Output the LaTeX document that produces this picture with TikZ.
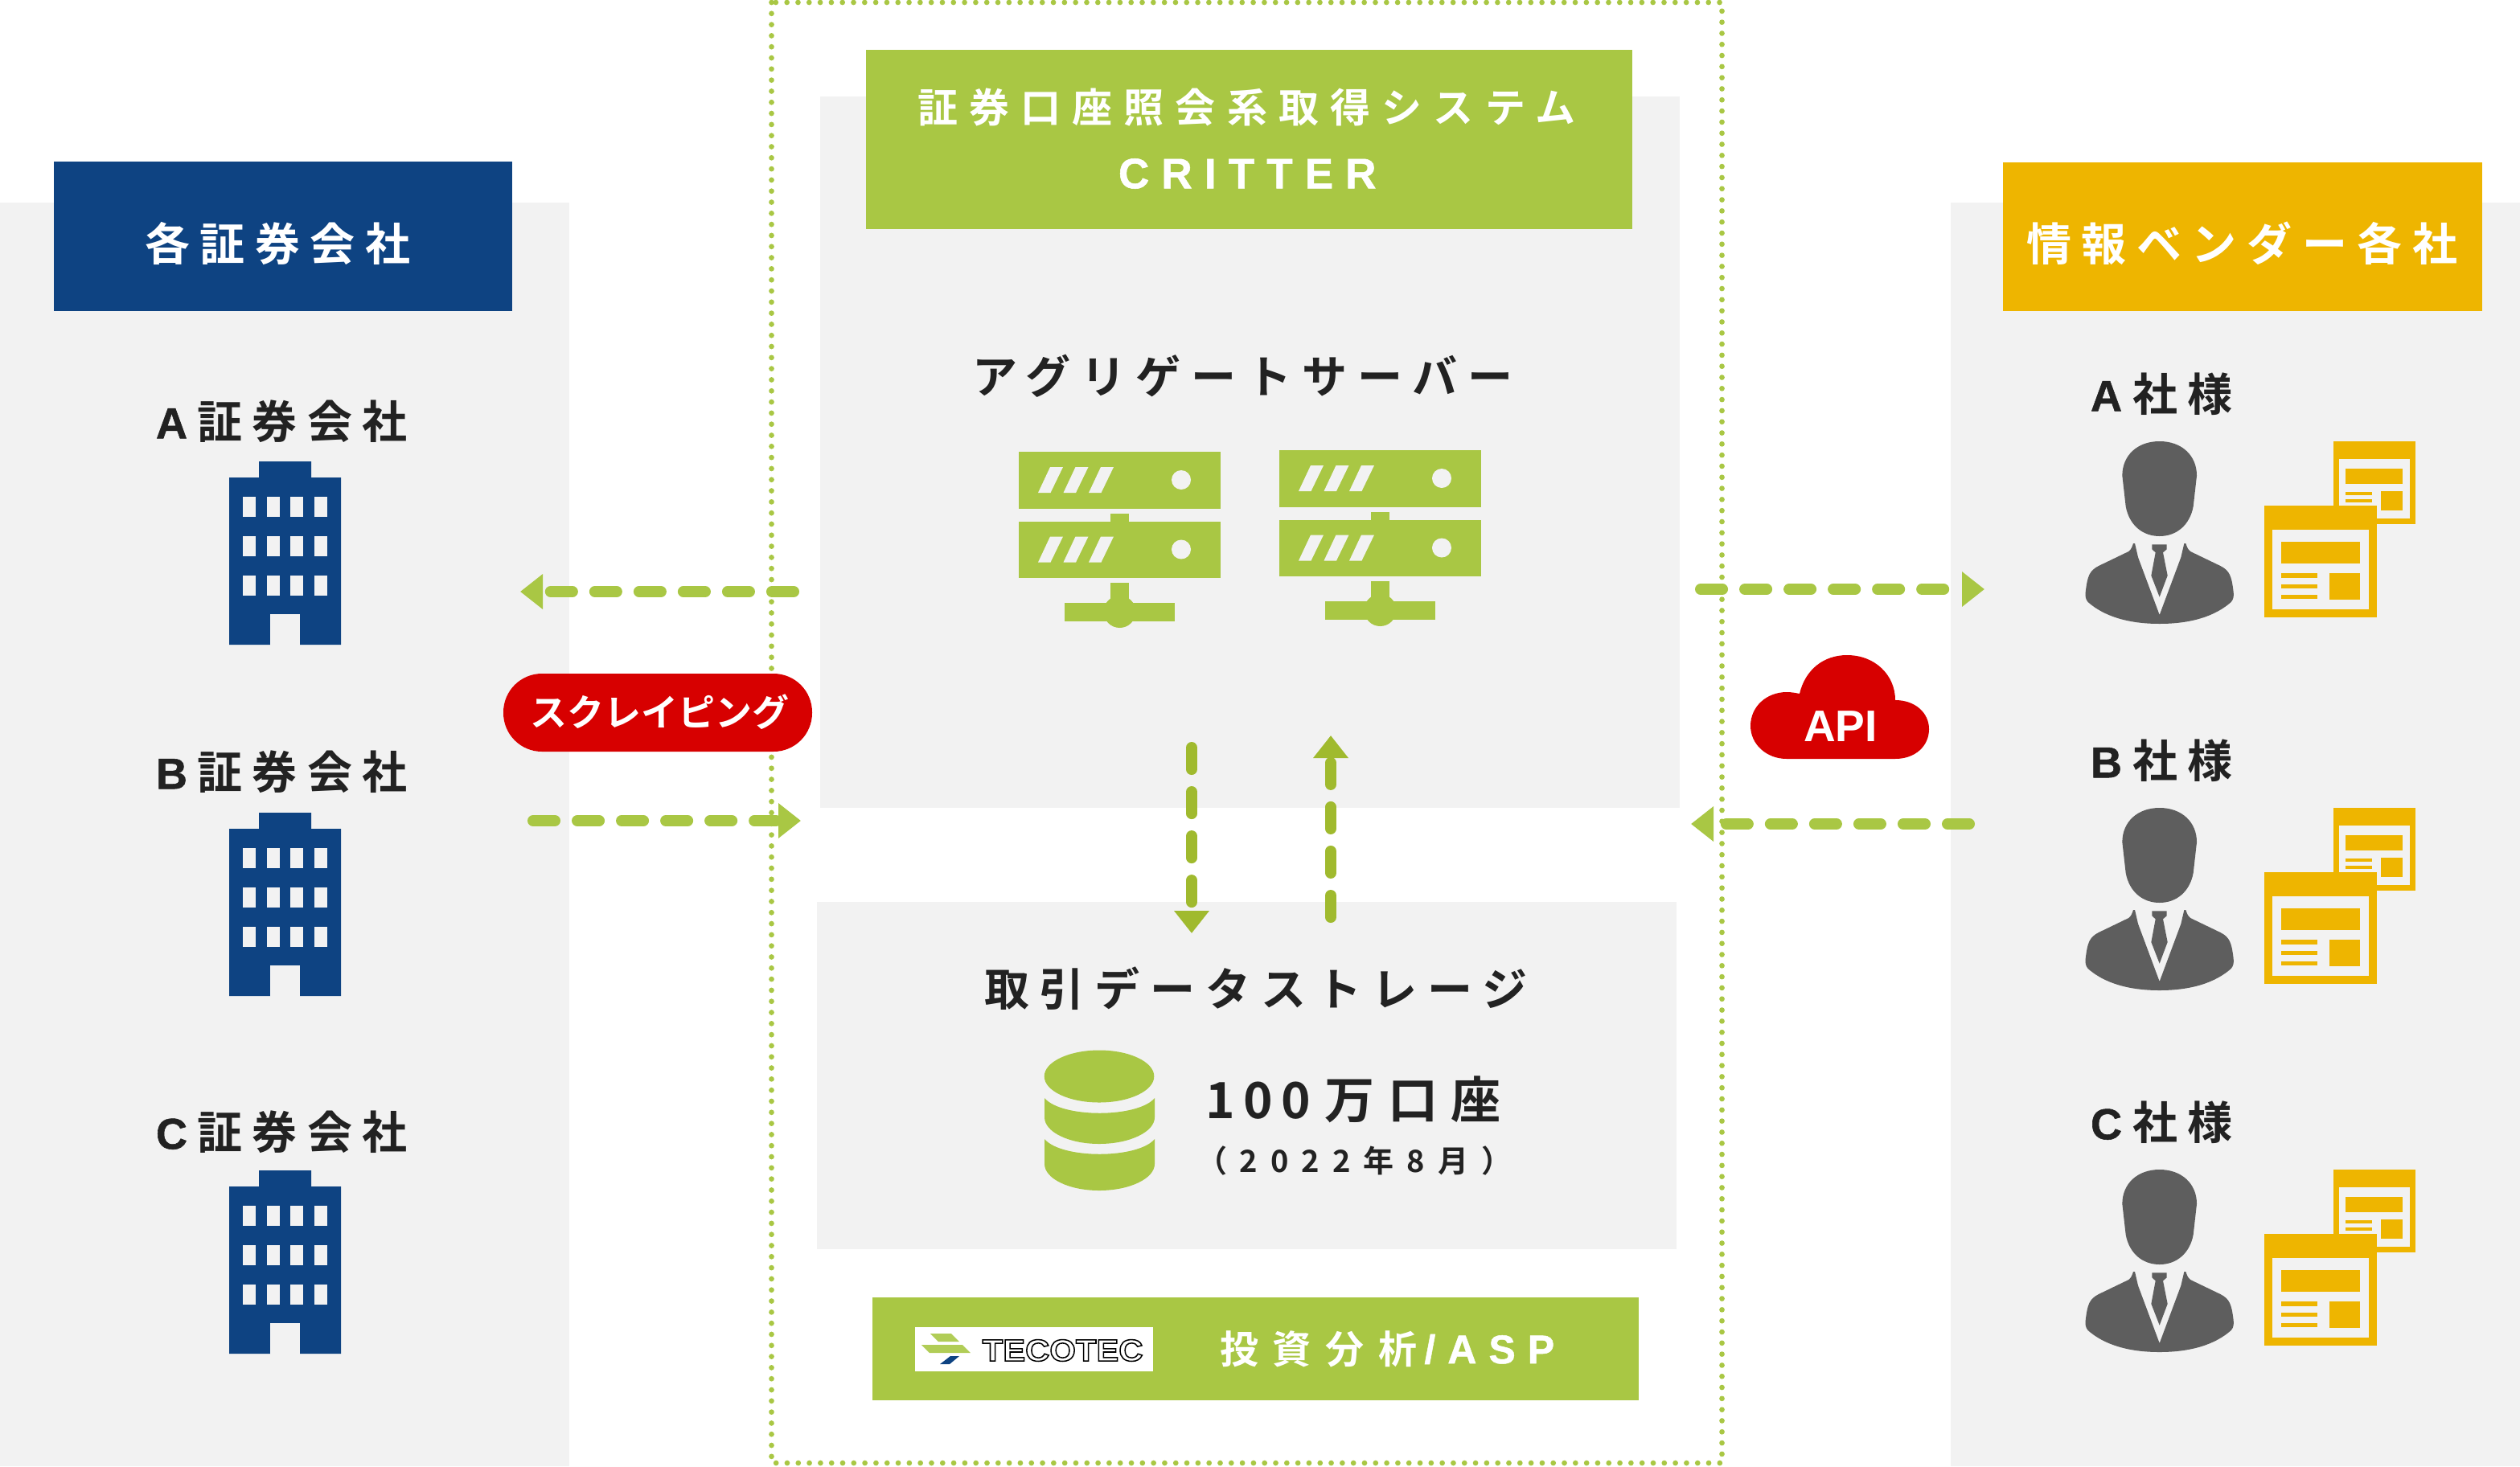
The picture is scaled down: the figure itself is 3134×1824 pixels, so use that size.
\documentclass[tikz,border=0pt]{standalone}
\usepackage{fontspec}
\usetikzlibrary{arrows.meta}
\setmainfont{Noto Sans CJK JP}
\newfontfamily\jpb{Noto Sans CJK JP Bold}
\newfontfamily\latb[FakeBold=1]{Liberation Sans Bold}
\newfontfamily\latp{Liberation Sans Bold}
\newcommand{\tsz}[2]{\fontsize{\fpeval{#1*0.28453}pt}{\fpeval{#1*0.3}pt}\selectfont\addfontfeature{LetterSpace=#2}}
\definecolor{gpanel}{HTML}{F2F2F2}
\definecolor{gbar}{HTML}{A9C744}
\definecolor{gdark}{HTML}{A0BA2E}
\definecolor{nblue}{HTML}{0E4382}
\definecolor{amber}{HTML}{EEB500}
\definecolor{cred}{HTML}{D70000}
\definecolor{ink}{HTML}{222222}
\definecolor{pgray}{HTML}{5E5E5E}
\tikzset{
  lbl/.style={inner sep=0pt,outer sep=0pt,anchor=west,text=ink},
  wlbl/.style={lbl,text=white},
  flow/.style={gbar,line width=0.14cm,line cap=round,dash pattern=on 0.27cm off 0.28cm,
     -{Triangle[length=0.28cm,width=0.42cm]}},
  flowd/.style={flow,gdark},
}
% building: dy is vertical offset
\newcommand{\building}[1]{%
 \begin{scope}[yshift=-#1*0.01cm]
  \fill[nblue] (285,802) -- (285,594) -- (322,594) -- (322,574) -- (387,574) -- (387,594) -- (424,594) -- (424,802) -- (373,802) -- (373,764) -- (336,764) -- (336,802) -- cycle;
  \foreach \wy in {618,667,716}{
   \foreach \wx in {302,332,361,391}{
    \fill[gpanel] (\wx,\wy) rectangle ++(16,25);
   }}
  \fill[gpanel] (336,764) rectangle (373,802);
 \end{scope}}
% server icon
\newcommand{\serverrow}[1]{%
  \fill[gbar] (1267,#1) rectangle ++(251,70.5);
  \foreach \sx in {0,31.5,63}{
    \fill[gpanel] ({1291+\sx},{#1+51}) -- ({1306+\sx},{#1+19}) -- ({1322+\sx},{#1+19}) -- ({1306.5+\sx},{#1+51}) -- cycle;
  }
  \fill[gpanel] (1469,{#1+35}) circle (12);
}
\newcommand{\server}[2]{%
 \begin{scope}[shift={(#1,#2)}]
  \serverrow{562}
  \serverrow{648.5}
  \fill[gbar] (1381,639) rectangle (1404,649);
  \fill[gbar] (1381,725) rectangle (1404,752);
  \fill[gbar] (1324,750) rectangle (1461,773);
  \fill[gbar] (1392.5,761) circle (20);
 \end{scope}}
% person + windows
\newcommand{\vendor}[1]{%
 \begin{scope}[shift={(2560,520+#1)},scale=0.33333]
  \fill[pgray] (377,87) .. controls (460,87) and (516,140) .. (516,215) -- (503,330) .. controls (490,400) and (440,441) .. (377,441) .. controls (314,441) and (264,400) .. (251,330) -- (238,215) .. controls (238,140) and (294,87) .. (377,87) -- cycle;
  \fill[pgray] (377,768) .. controls (260,768) and (170,740) .. (110,687) .. controls (100,675) and (100,665) .. (101,650) .. controls (108,590) and (115,570) .. (150,552) -- (262,498) .. controls (272,490) and (275,480) .. (279,468) -- (285,468) -- (297,520) -- (377,735) -- (457,520) -- (469,468) -- (475,468) .. controls (479,480) and (482,490) .. (492,498) -- (604,552) .. controls (639,570) and (646,590) .. (653,650) .. controls (654,665) and (654,675) .. (644,687) .. controls (584,740) and (494,768) .. (377,768) -- cycle;
  \fill[pgray] (349,472) -- (404,472) -- (404,490) -- (390,502) -- (407,588) -- (377,668) -- (346,588) -- (362,502) -- (349,490) -- cycle;
  \fill[amber] (1026,87) rectangle (1332,396);
  \fill[gpanel] (1047,153) rectangle (1311,375);
  \fill[amber] (1072,188) rectangle (1285,247);
  \fill[amber] (1072,275) rectangle (1170,287);
  \fill[amber] (1072,304) rectangle (1170,316);
  \fill[amber] (1202,273) rectangle (1285,345);
  \fill[amber] (768,327) rectangle (1188,744);
  \fill[gpanel] (797,417) rectangle (1158,714);
  \fill[amber] (831,463) rectangle (1124,543);
  \fill[amber] (831,580) rectangle (966,596);
  \fill[amber] (831,620) rectangle (966,636);
  \fill[amber] (831,659) rectangle (966,675);
  \fill[amber] (1010,579) rectangle (1124,677);
 \end{scope}}
\begin{document}
\begin{tikzpicture}[x=0.01cm,y=-0.01cm]
\useasboundingbox (0,0) rectangle (3134,1824);
\fill[white] (0,0) rectangle (3134,1824);
% panels
\fill[gpanel] (0,252) rectangle (708,1824);
\fill[gpanel] (2426,252) rectangle (3134,1824);
\fill[gpanel] (1020,120) rectangle (2089,1005);
\fill[gpanel] (1016,1122) rectangle (2085,1554);
% dotted frame
\draw[gbar,line width=0.067cm,line cap=round,dash pattern=on 0pt off 0.138cm] (959.5,3) rectangle (2141.5,1820);
% header boxes
\fill[nblue] (67,201) rectangle (637,387);
\fill[amber] (2491,202) rectangle (3087,387);
\fill[gbar] (1077,62) rectangle (2030,285);
\fill[gbar] (1085,1614) rectangle (2038,1742);
% header text
\node[wlbl] (tleft) at (180,303) {\jpb\tsz{56}{22.5}各証券会社};
\node[wlbl] (tright) at (2520,303) {\jpb\tsz{56}{22.5}情報ベンダー各社};
\node[wlbl] (tcrit) at (1141,134) {\jpb\tsz{50}{28.3}証券口座照会系取得システム};
\node[wlbl] (tcrit2) at (1391,216) {\latb\tsz{53}{28.5}CRITTER};
% left companies
\node[lbl] (ca) at (194,524) {\latb\tsz{54}{0}A\hspace{0.12cm}\jpb\tsz{56}{22.5}証券会社};
\node[lbl] (cb) at (194,960) {\latb\tsz{54}{0}B\hspace{0.12cm}\jpb\tsz{56}{22.5}証券会社};
\node[lbl] (cc) at (194,1408) {\latb\tsz{54}{0}C\hspace{0.12cm}\jpb\tsz{56}{22.5}証券会社};
\building{0}
\building{437}
\building{882}
% right vendors
\node[lbl] (va) at (2600,490) {\latb\tsz{54}{0}A\hspace{0.13cm}\jpb\tsz{56}{22.5}社様};
\node[lbl] (vb) at (2600,946) {\latb\tsz{54}{0}B\hspace{0.13cm}\jpb\tsz{56}{22.5}社様};
\node[lbl] (vc) at (2600,1396) {\latb\tsz{54}{0}C\hspace{0.13cm}\jpb\tsz{56}{22.5}社様};
\vendor{0}
\vendor{456}
\vendor{906}
% server
\node[lbl] (tserver) at (1209,468) {\jpb\tsz{56}{23}アグリゲートサーバー};
\server{0}{0}
\server{324}{-2}
% storage
\node[lbl] (tstore) at (1224,1230) {\jpb\tsz{56}{23}取引データストレージ};
\fill[gbar] (1367,1339) ellipse (68.3 and 32.5);
\fill[gbar] (1299,1366) .. controls (1320,1391) and (1415,1391) .. (1436,1366) -- (1436,1390) .. controls (1436,1408) and (1405,1423) .. (1367,1423) .. controls (1329,1423) and (1299,1408) .. (1299,1390) -- cycle;
\fill[gbar] (1299,1417) .. controls (1320,1442) and (1415,1442) .. (1436,1417) -- (1436,1448) .. controls (1436,1466) and (1405,1481) .. (1367,1481) .. controls (1329,1481) and (1299,1466) .. (1299,1448) -- cycle;
\node[lbl] (tcount) at (1499,1368) {\jpb\tsz{62}{17}100\hspace{0.18cm}\tsz{62}{26}万口座};
\node[lbl] (tdate) at (1488,1444) {\jpb\tsz{38}{42}（2022年8月）};
% bottom bar
\fill[white] (1138,1651) rectangle (1434,1706);
\fill[gbar!90!white] (1157,1659) -- (1183,1659) -- (1193,1669) -- (1167,1669) -- cycle;
\fill[gbar!90!white] (1146,1673) -- (1197,1673) -- (1207,1683) -- (1156,1683) -- cycle;
\fill[nblue] (1182,1687) -- (1193,1687) -- (1181,1697) -- (1169,1697) -- cycle;
\node[inner sep=0pt,anchor=west] (tlogo) at (1221,1680) {\fontspec{Liberation Sans Bold}[FakeBold=4,FakeStretch=1.1]\tsz{38}{0}\special{pdf:code q 1 1 1 rg 0 0 0 RG}TECOTEC\special{pdf:code Q}};
\node[wlbl] (tasp) at (1517,1678) {\jpb\tsz{48}{37}投資分析\hspace{0.09cm}\latb\tsz{50}{30}/ASP};
% connectors
\coordinate (a1s) at (987,736); \coordinate (a1e) at (647,736);
\coordinate (a2s) at (663,1021); \coordinate (a2e) at (996,1021);
\coordinate (a3s) at (2115,733); \coordinate (a3e) at (2468,733);
\coordinate (a4s) at (2449,1025); \coordinate (a4e) at (2103,1025);
\coordinate (a5s) at (1482,930); \coordinate (a5e) at (1482,1161);
\coordinate (a6s) at (1655,1141); \coordinate (a6e) at (1655,915);
\draw[flow] (a1s) -- (a1e);
\draw[flow] (a2s) -- (a2e);
\draw[flow] (a3s) -- (a3e);
\draw[flow] (a4s) -- (a4e);
\draw[flowd] (a5s) -- (a5e);
\draw[flowd] (a6s) -- (a6e);
% pill
\fill[cred,rounded corners=0.48cm] (626,838) rectangle (1010,935);
\node[wlbl] (tscrape) at (659,886) {\jpb\tsz{46}{0}スクレイピング};
% cloud
\fill[cred] (2238,863) .. controls (2245,833) and (2268,815) .. (2297,815) .. controls (2332,815) and (2357,840) .. (2357,871) .. controls (2382,871) and (2399,887) .. (2399,907) .. controls (2399,928) and (2382,944) .. (2357,944) -- (2222,944) .. controls (2197,944) and (2177,926) .. (2177,903) .. controls (2177,879) and (2197,861) .. (2222,861) .. controls (2228,861) and (2233,862) .. (2238,863) -- cycle;
\node[wlbl] (tapi) at (2243,904) {\latp\tsz{55}{0}API};
\end{tikzpicture}
\end{document}
